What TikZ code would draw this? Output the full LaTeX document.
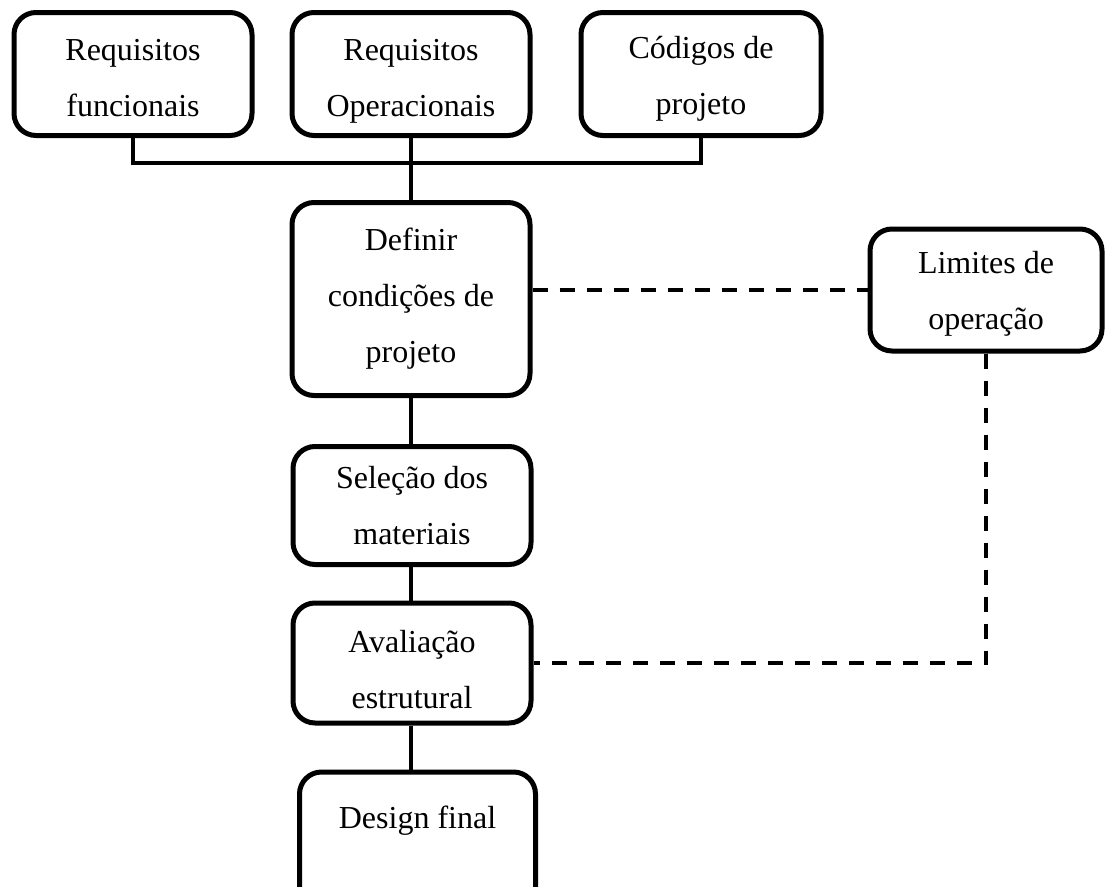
\documentclass[tikz,border=0pt]{standalone}
\usepackage{fontspec}
\setmainfont{Liberation Serif}
\usetikzlibrary{calc}
\tikzset{
  box/.style={draw=black, line width=5pt, rounded corners=22pt, fill=white,
    align=center, inner sep=0pt, font=\fontsize{32}{56}\selectfont},
  txt/.style={inner sep=0pt, font=\fontsize{32}{56}\selectfont},
  link/.style={draw=black, line width=4pt},
  dlink/.style={draw=black, line width=4pt, dash pattern=on 15pt off 12pt},
}
\newcommand{\tstrut}[1]{\rule{0pt}{#1pt}}
\begin{document}
\begin{tikzpicture}[x=1pt,y=-1pt]
\clip (0,0) rectangle (1105,886);
\fill[white] (0,0) rectangle (1105,886);
\coordinate (bus) at (411,163);
\node[box, minimum width=238pt, minimum height=123pt] (rf) at (133,74) {\tstrut{30}Requisitos\\funcionais};
\node[box, minimum width=238pt, minimum height=123pt] (ro) at (411,74) {\tstrut{36}Requisitos\\Operacionais};
\node[box, minimum width=240pt, minimum height=123pt] (cp) at (701,74) {\tstrut{32}Códigos de\\projeto};
\node[box, minimum width=238pt, minimum height=193pt] (def) at (411,299) {Definir\\condições de\\projeto};
\node[box, minimum width=232pt, minimum height=122pt] (lim) at (986,290) {\tstrut{30}Limites de\\operação};
\node[box, minimum width=238pt, minimum height=118pt] (sel) at (412,505.5) {Seleção dos\\materiais};
\node[box, minimum width=238pt, minimum height=120pt] (ava) at (412,663) {\tstrut{36}Avaliação\\estrutural};
\node[box, minimum width=236pt, minimum height=160pt, anchor=north] (des) at (417.5,769.5) {};
\node[txt] (destxt) at ($(des.north)+(0,51)$) {Design final};
% solid connectors
\draw[link] (rf.south) |- (bus) -| (cp.south);
\draw[link] (ro.south) -- (def.north);
\draw[link] (def.south) -- (sel.north -| def.south);
\draw[link] (sel.south -| def.south) -- (ava.north -| def.south);
\draw[link] (ava.south -| def.south) -- (des.north -| def.south);
% dashed connectors
\draw[dlink] (def.east |- lim.west) -- (lim.west);
\draw[dlink] (lim.south) |- (ava.east);
\end{tikzpicture}
\end{document}
